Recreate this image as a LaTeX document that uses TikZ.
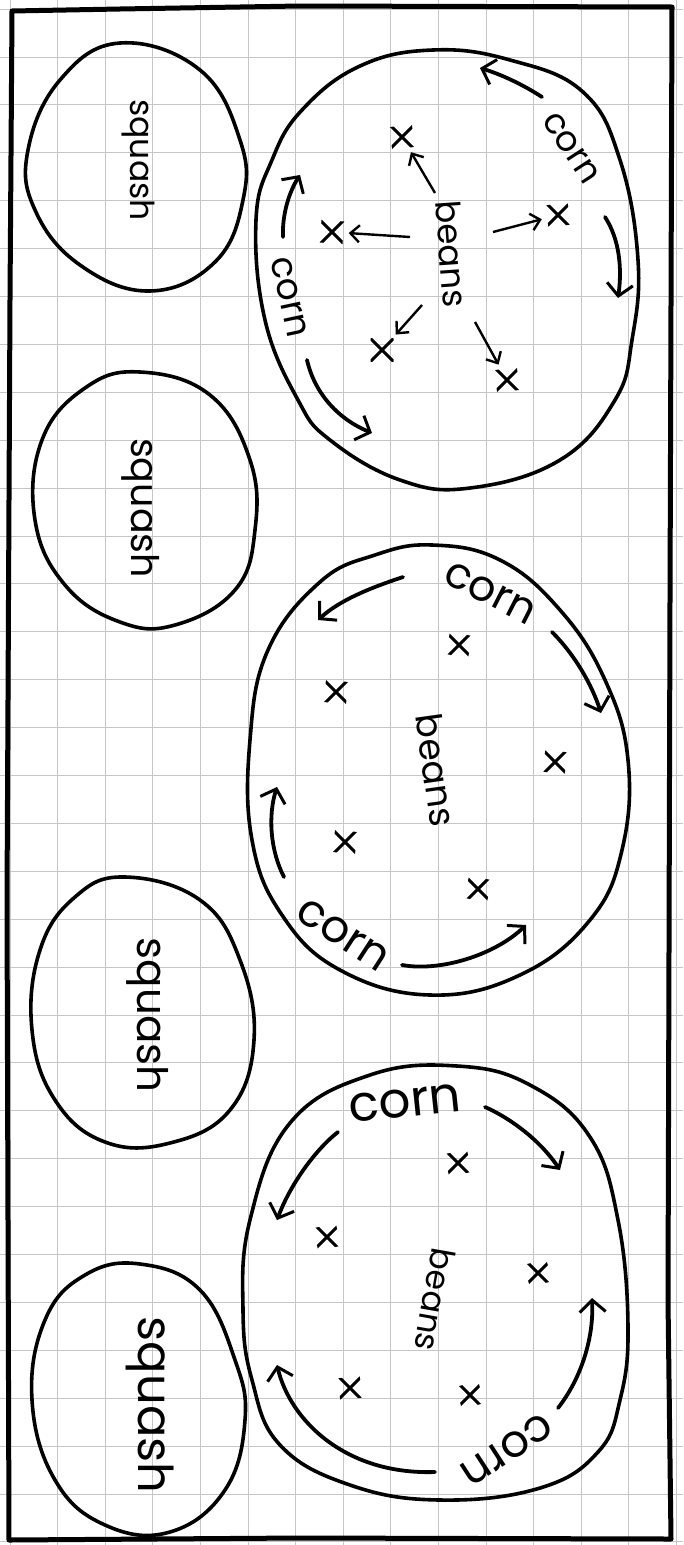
\documentclass[tikz,border=0pt]{standalone}
\usepackage{fontspec}
\setmainfont{Poppins}
\usetikzlibrary{arrows.meta}
\tikzset{
  paperline/.style = {draw=gray!45, line width=0.8pt},
  edgeline/.style = {draw=black, line width=5pt, line join=round},
  bed/.style = {draw=black, line width=3.6pt},
  wordlbl/.style = {inner sep=0pt},
  xmark/.style = {minimum size=23pt, inner sep=0pt, path picture={
      \draw[line width=3pt] (path picture bounding box.south west) -- (path picture bounding box.north east)
      (path picture bounding box.north west) -- (path picture bounding box.south east);}},
  arr/.style = {line width=2.4pt, shorten >=5pt, -{Straight Barb[length=9pt, width=17pt, line width=2.4pt]}},
  bigarr/.style = {line width=3.8pt, line cap=round, -{Straight Barb[length=12pt, width=26pt, line width=3pt]}}
}
\newcommand{\fs}[1]{\fontsize{#1}{#1}\selectfont}

\begin{document}
\begin{tikzpicture}[x=1pt, y=-1pt]
\useasboundingbox (0,0) rectangle (683,1545);
% paper
\foreach \i in {0,...,14} \draw[paperline] ({10+47.6*\i},0) -- ({10+47.6*\i},1545);
\foreach \j in {0,...,32} \draw[paperline] (0,{9+47.9*\j}) -- (683,{9+47.9*\j});
\draw[edgeline] (12,11) -- (120,9) -- (300,6) -- (672,7) -- (670,600) -- (668,1300) -- (671,1539)
  -- (300,1538) -- (9,1540) -- (7,900) -- (10,300) -- cycle;

% ----- SQUASH BEDS -----
\draw[bed] plot[smooth cycle, tension=0.7] coordinates {(120,43) (200,70) (240,140) (243,200) (215,262) (150,291) (80,265) (35,210) (28,150) (60,80)};
\draw[bed] plot[smooth cycle, tension=0.7] coordinates {(140,372) (210,395) (250,460) (255,530) (235,590) (175,625) (120,622) (65,585) (35,520) (42,440) (85,388)};
\draw[bed] plot[smooth cycle, tension=0.7] coordinates {(125,877) (200,900) (240,960) (254,1040) (230,1110) (170,1143) (105,1142) (55,1100) (32,1030) (40,950) (75,897)};
\draw[bed] plot[smooth cycle, tension=0.7] coordinates {(140,1264) (200,1290) (235,1360) (245,1420) (225,1490) (170,1532) (105,1525) (55,1480) (32,1400) (45,1320) (85,1275)};
\node[wordlbl, rotate=-90, font=\fs{33}] (s1) at (138,160) {squash};
\node[wordlbl, rotate=-90, font=\fs{38}] (s2) at (141,508) {squash};
\node[wordlbl, rotate=-90, font=\fs{42}] (s3) at (148,1015) {squash};
\node[wordlbl, rotate=-90, font=\fs{48}] (s4) at (150,1405) {squash};

% ----- BED A (top) -----
\draw[bed] plot[smooth cycle, tension=0.7] coordinates {(433,50) (510,60) (583,92) (620,160) (638,260) (632,340) (615,400) (560,460) (470,488) (400,480) (330,440) (298,400) (265,320) (256,220) (272,160) (302,110) (360,66)};
\node[wordlbl, rotate=-57, font=\fs{35}] (cA1) at (571,148) {corn};
\node[wordlbl, rotate=-78, font=\fs{36}] (cA2) at (289,297) {corn};
\node[wordlbl, rotate=-86, font=\fs{34}] (bA) at (452,254) {beans};
\node[xmark, rotate=8] (xA1) at (402,137) {};
\node[xmark, rotate=-5] (xA2) at (332,232) {};
\node[xmark, rotate=10] (xA3) at (558,215) {};
\node[xmark, rotate=0] (xA4) at (382,350) {};
\node[xmark, rotate=8] (xA5) at (507,380) {};
\coordinate (tA1) at (435,193);
\coordinate (tA2) at (410,237);
\coordinate (tA3) at (493,232);
\coordinate (tA4) at (422,305);
\coordinate (tA5) at (475,322);
\foreach \k in {1,...,5} \draw[arr] (tA\k) -- (xA\k);
\draw[bigarr] (542,97) .. controls (522,84) and (500,74) .. (480,68);
\draw[bigarr] (605,217) .. controls (620,240) and (622,270) .. (618,298);
\draw[bigarr] (283,237) .. controls (282,215) and (289,192) .. (300,175);
\draw[bigarr] (307,360) .. controls (315,395) and (340,420) .. (372,433);

% ----- BED B (middle) -----
\draw[bed] plot[smooth cycle, tension=0.7] coordinates {(432,545) (500,560) (560,610) (605,680) (628,760) (622,850) (590,920) (520,975) (430,995) (340,970) (282,915) (252,840) (250,740) (268,650) (320,582) (375,555)};
\node[wordlbl, rotate=-27, font=\fs{43}] (cB1) at (490,593) {corn};
\node[wordlbl, rotate=-33, font=\fs{45}] (cB2) at (343,935) {corn};
\node[wordlbl, rotate=-82, font=\fs{36}] (bB) at (436,770) {beans};
\node[xmark, rotate=-12] (xB1) at (459,645) {};
\node[xmark, rotate=-8] (xB2) at (336,692) {};
\node[xmark, rotate=-10] (xB3) at (555,762) {};
\node[xmark, rotate=-8] (xB4) at (345,842) {};
\node[xmark, rotate=-12] (xB5) at (478,889) {};
\draw[bigarr] (403,577) .. controls (370,588) and (340,600) .. (318,620);
\draw[bigarr] (552,632) .. controls (575,655) and (592,685) .. (601,713);
\draw[bigarr] (284,877) .. controls (270,850) and (268,815) .. (277,787);
\draw[bigarr] (402,965) .. controls (440,972) and (495,955) .. (526,925);

% ----- BED C (bottom) -----
\draw[bed] plot[smooth cycle, tension=0.7] coordinates {(457,1066) (530,1085) (590,1137) (618,1220) (628,1327) (620,1400) (598,1452) (540,1488) (440,1500) (350,1485) (280,1445) (252,1380) (243,1310) (250,1220) (290,1123) (370,1075)};
\node[wordlbl, rotate=6, font=\fs{50}] (cC1) at (405,1103) {corn};
\node[wordlbl, rotate=-147, font=\fs{45}] (cC2) at (507,1450) {corn};
\node[wordlbl, rotate=-100, font=\fs{33}] (bC) at (435,1300) {beans};
\node[xmark, rotate=12] (xC1) at (458,1163) {};
\node[xmark, rotate=12] (xC2) at (327,1237) {};
\node[xmark, rotate=15] (xC3) at (538,1273) {};
\node[xmark, rotate=10] (xC4) at (350,1388) {};
\node[xmark, rotate=15] (xC5) at (470,1395) {};
\draw[bigarr] (485,1107) .. controls (510,1118) and (540,1140) .. (560,1170);
\draw[bigarr] (338,1132) .. controls (315,1150) and (290,1185) .. (277,1220);
\draw[bigarr] (435,1472) .. controls (345,1475) and (290,1420) .. (277,1365);
\draw[bigarr] (558,1408) .. controls (580,1380) and (594,1340) .. (592,1298);

\end{tikzpicture}
\end{document}
